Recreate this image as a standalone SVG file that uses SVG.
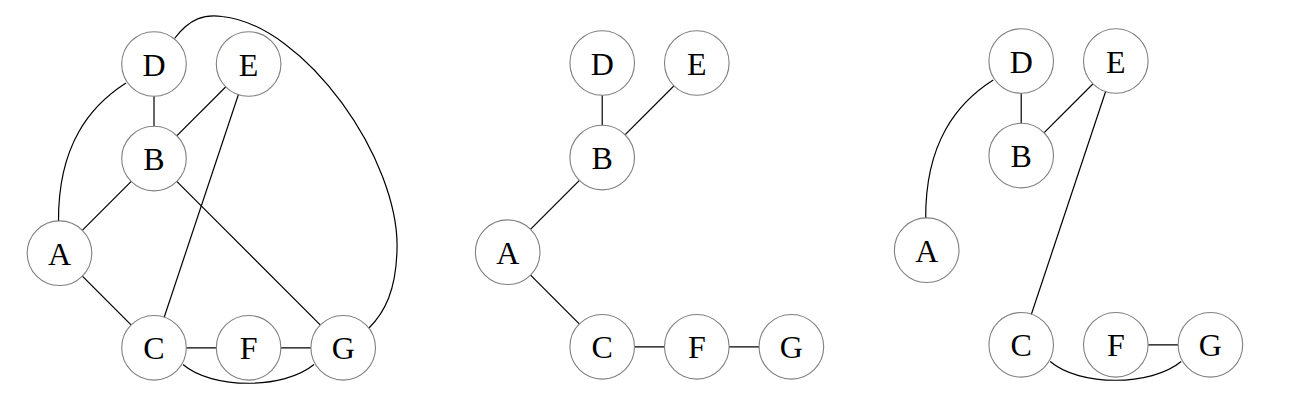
<svg xmlns="http://www.w3.org/2000/svg" width="1300" height="416" viewBox="0 0 1300 416">
<style>
.e{fill:none;stroke:#000;stroke-width:1.2}
.n circle{fill:#fff;stroke:#808080;stroke-width:1.1}
.n text{font-family:"Liberation Serif","DejaVu Serif",serif;font-size:32px;text-anchor:middle;fill:#000}
</style>
<rect width="1300" height="416" fill="#fff"/>
<!-- Graph 1 -->
<g id="graph1">
<g id="g1-edges">
<line class="e" x1="154" y1="64" x2="154" y2="158.6"/>
<line class="e" x1="248.6" y1="64" x2="154" y2="158.6"/>
<line class="e" x1="248.6" y1="64" x2="154" y2="347.8"/>
<line class="e" x1="154" y1="158.6" x2="59.5" y2="253.2"/>
<line class="e" x1="154" y1="158.6" x2="343.2" y2="347.8"/>
<line class="e" x1="59.5" y1="253.2" x2="154" y2="347.8"/>
<line class="e" x1="154" y1="347.8" x2="343.2" y2="347.8"/>
<path class="e" d="M126,83 C90,106 58,145 58.5,221.5"/>
<path class="e" d="M174.5,38.5 C190,18 205,14 222,16.5 C305,25 400,160 397,250 C396,290 385,312 369,328"/>
<path class="e" d="M183,364.5 C212,389.5 284,389.5 314,364.5"/>
</g>
<g id="g1-A" class="n"><circle cx="59.5" cy="253.2" r="32.3"/><text x="59.5" y="264.7">A</text></g>
<g id="g1-B" class="n"><circle cx="154" cy="158.6" r="32.3"/><text x="154" y="170.1">B</text></g>
<g id="g1-C" class="n"><circle cx="154" cy="347.8" r="32.3"/><text x="154" y="359.3">C</text></g>
<g id="g1-D" class="n"><circle cx="154" cy="64" r="32.3"/><text x="154" y="75.5">D</text></g>
<g id="g1-E" class="n"><circle cx="248.6" cy="64" r="32.3"/><text x="248.6" y="75.5">E</text></g>
<g id="g1-F" class="n"><circle cx="248.6" cy="347.8" r="32.3"/><text x="248.6" y="359.3">F</text></g>
<g id="g1-G" class="n"><circle cx="343.2" cy="347.8" r="32.3"/><text x="343.2" y="359.3">G</text></g>
</g>
<!-- Graph 2 -->
<g id="graph2" transform="translate(448.2,-1)">
<g id="g2-edges">
<line class="e" x1="154" y1="64" x2="154" y2="158.6"/>
<line class="e" x1="248.6" y1="64" x2="154" y2="158.6"/>
<line class="e" x1="154" y1="158.6" x2="59.5" y2="253.2"/>
<line class="e" x1="59.5" y1="253.2" x2="154" y2="347.8"/>
<line class="e" x1="154" y1="347.8" x2="343.2" y2="347.8"/>
</g>
<g id="g2-A" class="n"><circle cx="59.5" cy="253.2" r="32.3"/><text x="59.5" y="264.7">A</text></g>
<g id="g2-B" class="n"><circle cx="154" cy="158.6" r="32.3"/><text x="154" y="170.1">B</text></g>
<g id="g2-C" class="n"><circle cx="154" cy="347.8" r="32.3"/><text x="154" y="359.3">C</text></g>
<g id="g2-D" class="n"><circle cx="154" cy="64" r="32.3"/><text x="154" y="75.5">D</text></g>
<g id="g2-E" class="n"><circle cx="248.6" cy="64" r="32.3"/><text x="248.6" y="75.5">E</text></g>
<g id="g2-F" class="n"><circle cx="248.6" cy="347.8" r="32.3"/><text x="248.6" y="359.3">F</text></g>
<g id="g2-G" class="n"><circle cx="343.2" cy="347.8" r="32.3"/><text x="343.2" y="359.3">G</text></g>
</g>
<!-- Graph 3 -->
<g id="graph3" transform="translate(867.2,-3)">
<g id="g3-edges">
<line class="e" x1="154" y1="64" x2="154" y2="158.6"/>
<line class="e" x1="248.6" y1="64" x2="154" y2="158.6"/>
<line class="e" x1="248.6" y1="64" x2="154" y2="347.8"/>
<line class="e" x1="248.6" y1="347.8" x2="343.2" y2="347.8"/>
<path class="e" d="M126,83 C90,106 58,145 58.5,221.5"/>
<path class="e" d="M183,364.5 C212,389.5 284,389.5 314,364.5"/>
</g>
<g id="g3-A" class="n"><circle cx="59.5" cy="253.2" r="32.3"/><text x="59.5" y="264.7">A</text></g>
<g id="g3-B" class="n"><circle cx="154" cy="158.6" r="32.3"/><text x="154" y="170.1">B</text></g>
<g id="g3-C" class="n"><circle cx="154" cy="347.8" r="32.3"/><text x="154" y="359.3">C</text></g>
<g id="g3-D" class="n"><circle cx="154" cy="64" r="32.3"/><text x="154" y="75.5">D</text></g>
<g id="g3-E" class="n"><circle cx="248.6" cy="64" r="32.3"/><text x="248.6" y="75.5">E</text></g>
<g id="g3-F" class="n"><circle cx="248.6" cy="347.8" r="32.3"/><text x="248.6" y="359.3">F</text></g>
<g id="g3-G" class="n"><circle cx="343.2" cy="347.8" r="32.3"/><text x="343.2" y="359.3">G</text></g>
</g>
</svg>
